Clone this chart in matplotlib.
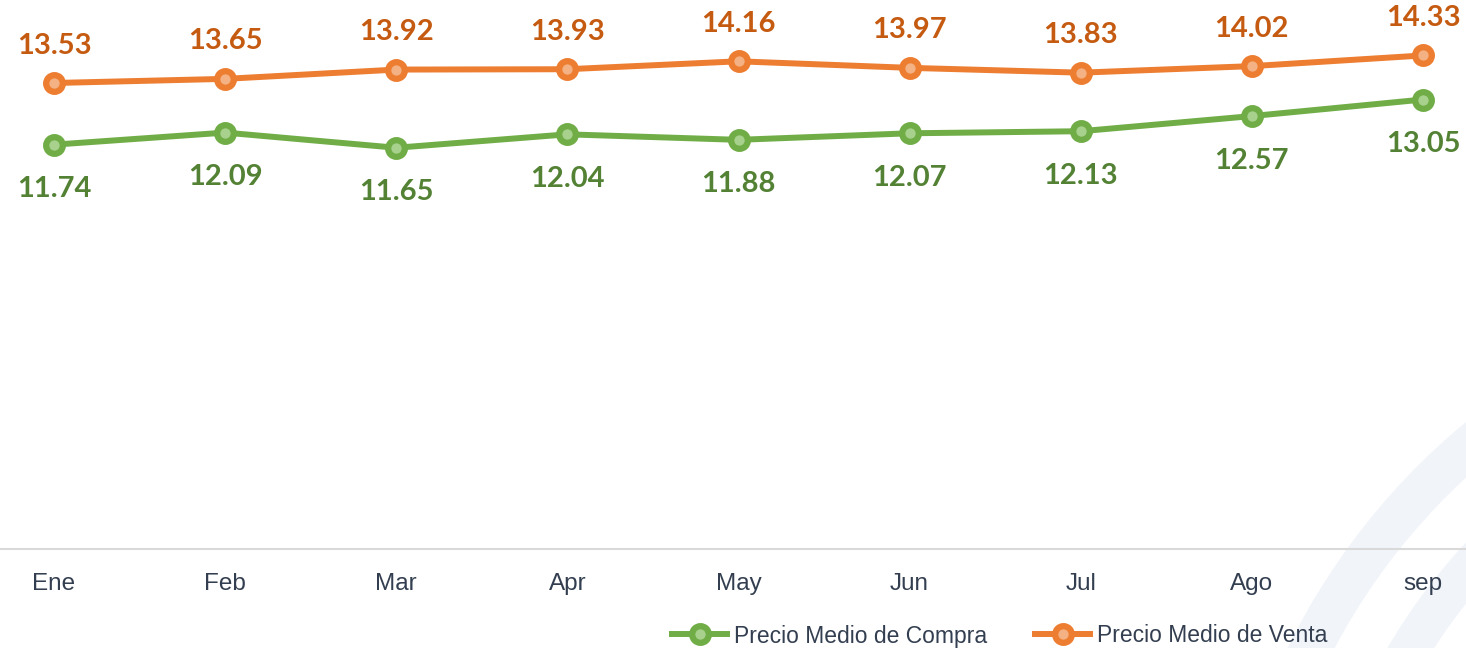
import matplotlib.pyplot as plt
from matplotlib.patches import Wedge

# data
months = ["Ene", "Feb", "Mar", "Apr", "May", "Jun", "Jul", "Ago", "sep"]
compra = [11.74, 12.09, 11.65, 12.04, 11.88, 12.07, 12.13, 12.57, 13.05]
venta = [13.53, 13.65, 13.92, 13.93, 14.16, 13.97, 13.83, 14.02, 14.33]

green = "#70AD47"
green_dark = "#548235"
green_light = "#A9D18E"
orange = "#ED7D31"
orange_dark = "#C55A11"
orange_light = "#F4B183"
text_col = "#333F50"

fig = plt.figure(figsize=(14.66, 6.48), dpi=100)

# faint decorative arcs in the background
bg = fig.add_axes([0, 0, 1, 1], zorder=0)
bg.set_xlim(0, 1466)
bg.set_ylim(0, 648)
bg.axis("off")
bg.add_patch(Wedge((1900, -300), 682, 90, 200, width=42, color="#F1F4F9", lw=0))
bg.add_patch(Wedge((1900, -300), 594, 90, 200, width=40, color="#F1F4F9", lw=0))

ax = fig.add_axes([0, 99 / 648, 1, 549 / 648], zorder=1)
ax.patch.set_visible(False)

x = list(range(len(months)))
ax.plot(x, compra, color=green, lw=4.3, marker="o", ms=12, mfc=green_light,
        mec=green, mew=4.5, label="Precio Medio de Compra", zorder=3)
ax.plot(x, venta, color=orange, lw=4.3, marker="o", ms=12, mfc=orange_light,
        mec=orange, mew=4.5, label="Precio Medio de Venta", zorder=3)

for i in x:
    ax.annotate(f"{venta[i]:.2f}", (i, venta[i]), xytext=(0, 27), textcoords="offset points",
                ha="center", va="center", color=orange_dark, fontsize=21,
                fontweight="bold", family="Lato")
    ax.annotate(f"{compra[i]:.2f}", (i, compra[i]), xytext=(0, -32), textcoords="offset points",
                ha="center", va="center", color=green_dark, fontsize=21,
                fontweight="bold", family="Lato")

ax.set_xlim(-54 / 171.1, 8 + 43 / 171.1)
ax.set_ylim(0, 15.94)
ax.set_xticks(x)
ax.set_xticklabels(months, fontsize=17.5, color=text_col, family="Liberation Sans")
ax.tick_params(axis="x", length=0, pad=17)
ax.set_yticks([])
for s in ["top", "left", "right"]:
    ax.spines[s].set_visible(False)
ax.spines["bottom"].set_color("#D9D9D9")
ax.spines["bottom"].set_linewidth(1.5)

leg = fig.legend(loc="center", bbox_to_anchor=(1000 / 1466, 1 - 636 / 648), ncol=2,
                 frameon=False, handlelength=2.4, handletextpad=0.3, columnspacing=2.1,
                 prop={"family": "Liberation Sans", "size": 16.5})
for t in leg.get_texts():
    t.set_color(text_col)

fig.savefig("out.png", dpi=100)
